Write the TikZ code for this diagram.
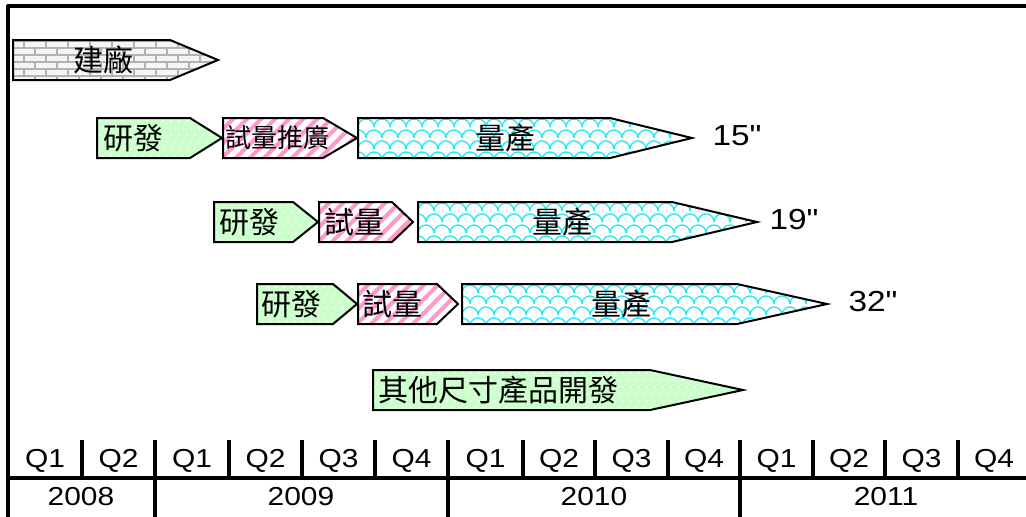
\documentclass[tikz,border=0pt]{standalone}
\usepackage{fontspec}
\setmainfont{Liberation Sans}
\newfontfamily\arial{Liberation Sans}[FakeStretch=1.15]
\newfontfamily\cjk{Noto Sans CJK TC}
\definecolor{grn}{RGB}{204,255,204}
\definecolor{pnk}{RGB}{255,153,204}
\definecolor{cyn}{RGB}{30,235,245}
\tikzset{
  pent/.style n args={5}{insert path={(#1,#4) -- (#2,#4) -- (#3,{(#4+#5)/2}) -- (#2,#5) -- (#1,#5) -- cycle}},
  outl/.style={draw=black, line width=2pt, line join=miter},
  brickln/.style={draw=black!30, line width=1.2pt},
  stripeln/.style={draw=pnk, line width=4.2pt},
  scaleln/.style={draw=cyn, line width=1.3pt},
  lab/.style={font=\cjk\fontsize{30}{30}\selectfont, inner sep=0pt},
  labsm/.style={font=\cjk\fontsize{26}{26}\selectfont, inner sep=0pt},
  size/.style={font=\arial\fontsize{29}{29}\selectfont, inner sep=0pt},
  tick/.style={font=\arial\fontsize{26}{26}\selectfont, inner sep=0pt},
  frame/.style={draw=black, line width=3.2pt},
}
\newcommand\PBrick[4]{%
  \fill[black!4] (#1,#3) rectangle (#2,#4);
  \pgfmathtruncatemacro\mynn{(#2-#1)/22+2}
  \foreach \j in {0,...,6}{%
    \pgfmathsetmacro\myy{#3+1+7*\j}
    \pgfmathsetmacro\myoff{mod(\j,2)*11}
    \draw[brickln] (#1,\myy) -- (#2,\myy);
    \foreach \i in {0,...,\mynn}{\draw[brickln] ({#1-11+\myoff+22*\i},\myy) -- ++(0,7);}
  }}
\newcommand\PDots[4]{%
  \fill[grn] (#1,#3) rectangle (#2,#4);
  \pgfmathtruncatemacro\mynn{(#2-#1)/8+1}
  \foreach \j in {0,...,5}{%
    \pgfmathsetmacro\myy{#3+3+7*\j}
    \pgfmathsetmacro\myoff{mod(\j,2)*4}
    \foreach \i in {0,...,\mynn}{\fill[white] ({#1+2+\myoff+8*\i},\myy) circle (1.2);}
  }}
\newcommand\PStripe[4]{%
  \fill[white] (#1,#3) rectangle (#2,#4);
  \pgfmathtruncatemacro\mynn{(#2-#1+50)/14+1}
  \foreach \i in {0,...,\mynn}{\draw[stripeln] ({#1-45+14*\i},#4+2) -- ++(48,-48);}
}
\newcommand\PScale[4]{%
  \fill[white] (#1,#3) rectangle (#2,#4);
  \pgfmathtruncatemacro\mynn{(#2-#1)/16+2}
  \foreach \j in {0,...,4}{%
    \pgfmathsetmacro\myy{#3-2+11*\j}
    \pgfmathsetmacro\myoff{mod(\j,2)*8}
    \foreach \i in {0,...,\mynn}{\draw[scaleln] ({#1-8+\myoff+16*\i},\myy) arc[start angle=180,end angle=360,radius=8];}
  }}
\newcommand\PArrow[6]{%
  \begin{scope}
    \clip[pent={#2}{#3}{#4}{#5}{#6}];
    \csname P#1\endcsname{#2}{#4}{#5}{#6}
  \end{scope}
  \draw[outl, pent={#2}{#3}{#4}{#5}{#6}];
}
\begin{document}
\begin{tikzpicture}[x=1pt,y=-1pt]
\useasboundingbox (0,0) rectangle (1026,517);
\fill[white] (0,0) rectangle (1026,517);
% frame
\draw[frame] (7,6) -- (1026,6);
\draw[frame] (8,5) -- (8,517);
% build
\PArrow{Brick}{13}{170}{218}{40}{80}
\node[lab] (build) at (103,60) {建廠};
% row 1
\PArrow{Dots}{97}{190}{222}{118}{158}
\PArrow{Stripe}{223}{323}{357}{118}{158}
\PArrow{Scale}{358}{610}{692}{118}{158}
\node[lab] (rd1) at (133,138) {研發};
\node[labsm] (tr1) at (277,138) {試量推廣};
\node[lab] (mp1) at (505,138) {量產};
\node[size] (s15) at (737,136) {15"};
% row 2
\PArrow{Dots}{214}{293}{318}{202}{242}
\PArrow{Stripe}{319}{392}{413}{202}{242}
\PArrow{Scale}{418}{672}{757}{202}{242}
\node[lab] (rd2) at (249,222) {研發};
\node[lab] (tr2) at (354,222) {試量};
\node[lab] (mp2) at (562,222) {量產};
\node[size] (s19) at (794,220) {19"};
% row 3
\PArrow{Dots}{257}{333}{357}{284}{324}
\PArrow{Stripe}{358}{437}{458}{284}{324}
\PArrow{Scale}{462}{737}{827}{284}{324}
\node[lab] (rd3) at (291,304) {研發};
\node[lab] (tr3) at (392,304) {試量};
\node[lab] (mp3) at (621,304) {量產};
\node[size] (s32) at (873,302) {32"};
% other sizes
\PArrow{Dots}{373}{650}{743}{370}{410}
\node[lab] (other) at (498,390) {其他尺寸產品開發};
% time axis
\draw[frame] (7,478) -- (1026,478);
\foreach \x in {82,155,229,302,375,448,523,595,668,740,813,885,958}{\draw[frame] (\x,440) -- (\x,478);}
\foreach \x in {155,448,740}{\draw[frame] (\x,478) -- (\x,517);}
\foreach \x/\q [count=\k] in {45/Q1,118.5/Q2,192/Q1,265.5/Q2,338.5/Q3,411.5/Q4,485.5/Q1,559/Q2,631.5/Q3,704/Q4,776.5/Q1,849/Q2,921.5/Q3,994/Q4}{\node[tick] (q\k) at (\x,461) {\q};}
\node[tick] (y2008) at (81,497) {2008};
\node[tick] (y2009) at (301,497) {2009};
\node[tick] (y2010) at (594,497) {2010};
\node[tick] (y2011) at (886,497) {2011};
\end{tikzpicture}
\end{document}
